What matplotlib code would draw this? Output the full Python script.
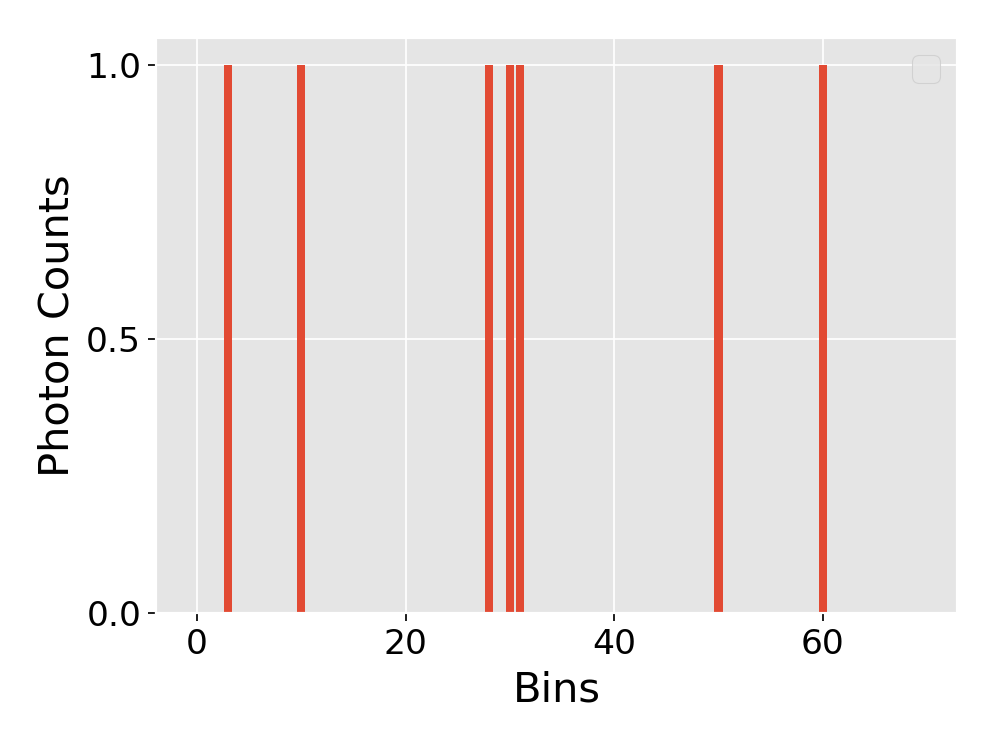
import numpy as np
import matplotlib
matplotlib.use("Agg")
import matplotlib.pyplot as plt

# photon counts per bin (only a few bins got a hit)
n_bins = 70
hit_bins = [3, 10, 28, 30, 31, 50, 60]
hit_counts = [1, 1, 1, 1, 1, 1, 1]

bins = np.arange(n_bins)
counts = np.zeros(n_bins)
counts[hit_bins] = hit_counts

plt.style.use('ggplot')
plt.rcParams['font.family'] = ['DejaVu Sans']
plt.rcParams['font.size'] = 16
plt.rcParams['xtick.color'] = 'black'
plt.rcParams['ytick.color'] = 'black'
plt.rcParams['xtick.labelcolor'] = 'black'
plt.rcParams['ytick.labelcolor'] = 'black'
plt.rcParams['axes.labelcolor'] = 'black'

fig, ax = plt.subplots(figsize=(6.4, 4.8), dpi=155.625)
fig.subplots_adjust(left=0.157, right=0.961, top=0.949, bottom=0.179)

ax.bar(bins, counts, width=0.8, color='#E24A33')
ax.set_yticks([0.0, 0.5, 1.0])
ax.set_xlabel('Bins')
ax.set_ylabel('Photon Counts')
ax.legend(handles=[], loc='upper right')

plt.savefig("out.png", dpi=155.625)
